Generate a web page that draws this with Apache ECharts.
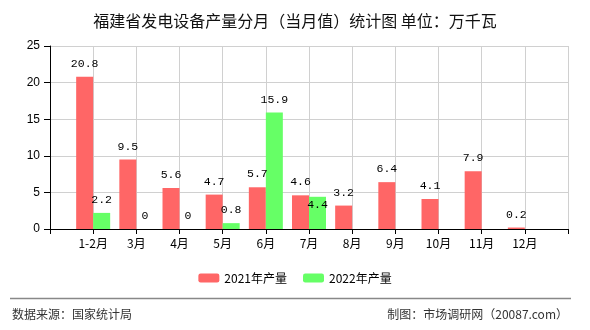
<!DOCTYPE html>
<html>
<head>
<meta charset="utf-8">
<script src="https://cdn.jsdelivr.net/npm/echarts@6/dist/echarts.min.js"></script>
<style>
  html, body { margin: 0; padding: 0; background: #fff; }
  #chart { width: 590px; height: 330px; }
</style>
</head>
<body>
<div id="chart"></div>
<script>
// 月份（首尾空位让标签落在刻度上）
const months = ['', '1-2月', '3月', '4月', '5月', '6月', '7月', '8月', '9月', '10月', '11月', '12月', ''];
const output2021 = ['-', 20.8, 9.5, 5.6, 4.7, 5.7, 4.6, 3.2, 6.4, 4.1, 7.9, 0.2, '-'];
const output2022 = ['-', 2.2, 0, 0, 0.8, 15.9, 4.4, '-', '-', '-', '-', '-', '-'];
const yTicks = { min: 0, max: 25, interval: 5 };

const chart = echarts.init(document.getElementById('chart'));

const labelFont = { fontFamily: 'Liberation Mono, monospace', fontSize: 11.5, color: '#000' };

// 7月 2022 的标签放在柱内（原图如此）
const data2022 = output2022.map((v, i) =>
  i === 6 ? { value: v, label: { position: 'insideTop', distance: 2 } } : v
);

chart.setOption({
  animation: false,
  title: {
    text: '福建省发电设备产量分月（当月值）统计图 单位：万千瓦',
    left: 'center',
    top: 8,
    textStyle: { fontSize: 16, fontWeight: 'normal', color: '#111', fontFamily: 'Noto Sans CJK SC' }
  },
  legend: {
    top: 267,
    left: 'center',
    itemWidth: 21,
    itemHeight: 9,
    itemGap: 16,
    textStyle: { fontSize: 12, color: '#000', fontFamily: 'Noto Sans CJK SC' },
    data: ['2021年产量', '2022年产量']
  },
  grid: { left: 50, right: 22, top: 46, bottom: 101 },
  xAxis: {
    type: 'category',
    data: months,
    boundaryGap: false,
    axisLine: { lineStyle: { color: '#000', width: 1 } },
    axisTick: { show: true, length: 5, lineStyle: { color: '#000' } },
    axisLabel: { color: '#000', fontSize: 12, margin: 8, interval: 0, fontFamily: 'Noto Sans CJK SC' },
    splitLine: { show: true, lineStyle: { color: '#d0d0d0' } }
  },
  yAxis: {
    type: 'value',
    min: yTicks.min,
    max: yTicks.max,
    interval: yTicks.interval,
    axisLine: { show: true, lineStyle: { color: '#000' } },
    axisTick: { show: true, length: 6, lineStyle: { color: '#000' } },
    axisLabel: { color: '#000', fontSize: 12, margin: 10, fontFamily: 'Liberation Sans' },
    splitLine: { lineStyle: { color: '#d0d0d0' } }
  },
  series: [
    {
      name: '2021年产量',
      type: 'bar',
      data: output2021,
      barWidth: 17,
      barGap: '0%',
      itemStyle: { color: '#ff6666' },
      label: Object.assign({ show: true, position: 'top', distance: 7 }, labelFont)
    },
    {
      name: '2022年产量',
      type: 'bar',
      data: data2022,
      barWidth: 17,
      barGap: '0%',
      itemStyle: { color: '#66ff66' },
      label: Object.assign({ show: true, position: 'top', distance: 7 }, labelFont)
    }
  ],
  graphic: [
    {
      type: 'line',
      shape: { x1: 10, y1: 298.5, x2: 571, y2: 298.5 },
      style: { stroke: '#888', lineWidth: 1.5 }
    },
    {
      type: 'text',
      left: 12,
      top: 308,
      style: { text: '数据来源：国家统计局', fontSize: 12, fill: '#333', fontFamily: 'Noto Sans CJK SC' }
    },
    {
      type: 'text',
      right: 22,
      top: 308,
      style: { text: '制图：市场调研网（20087.com）', fontSize: 12, fill: '#333', fontFamily: 'Noto Sans CJK SC' }
    }
  ]
});

window.addEventListener('resize', () => {
  chart.resize();
});
</script>
</body>
</html>
